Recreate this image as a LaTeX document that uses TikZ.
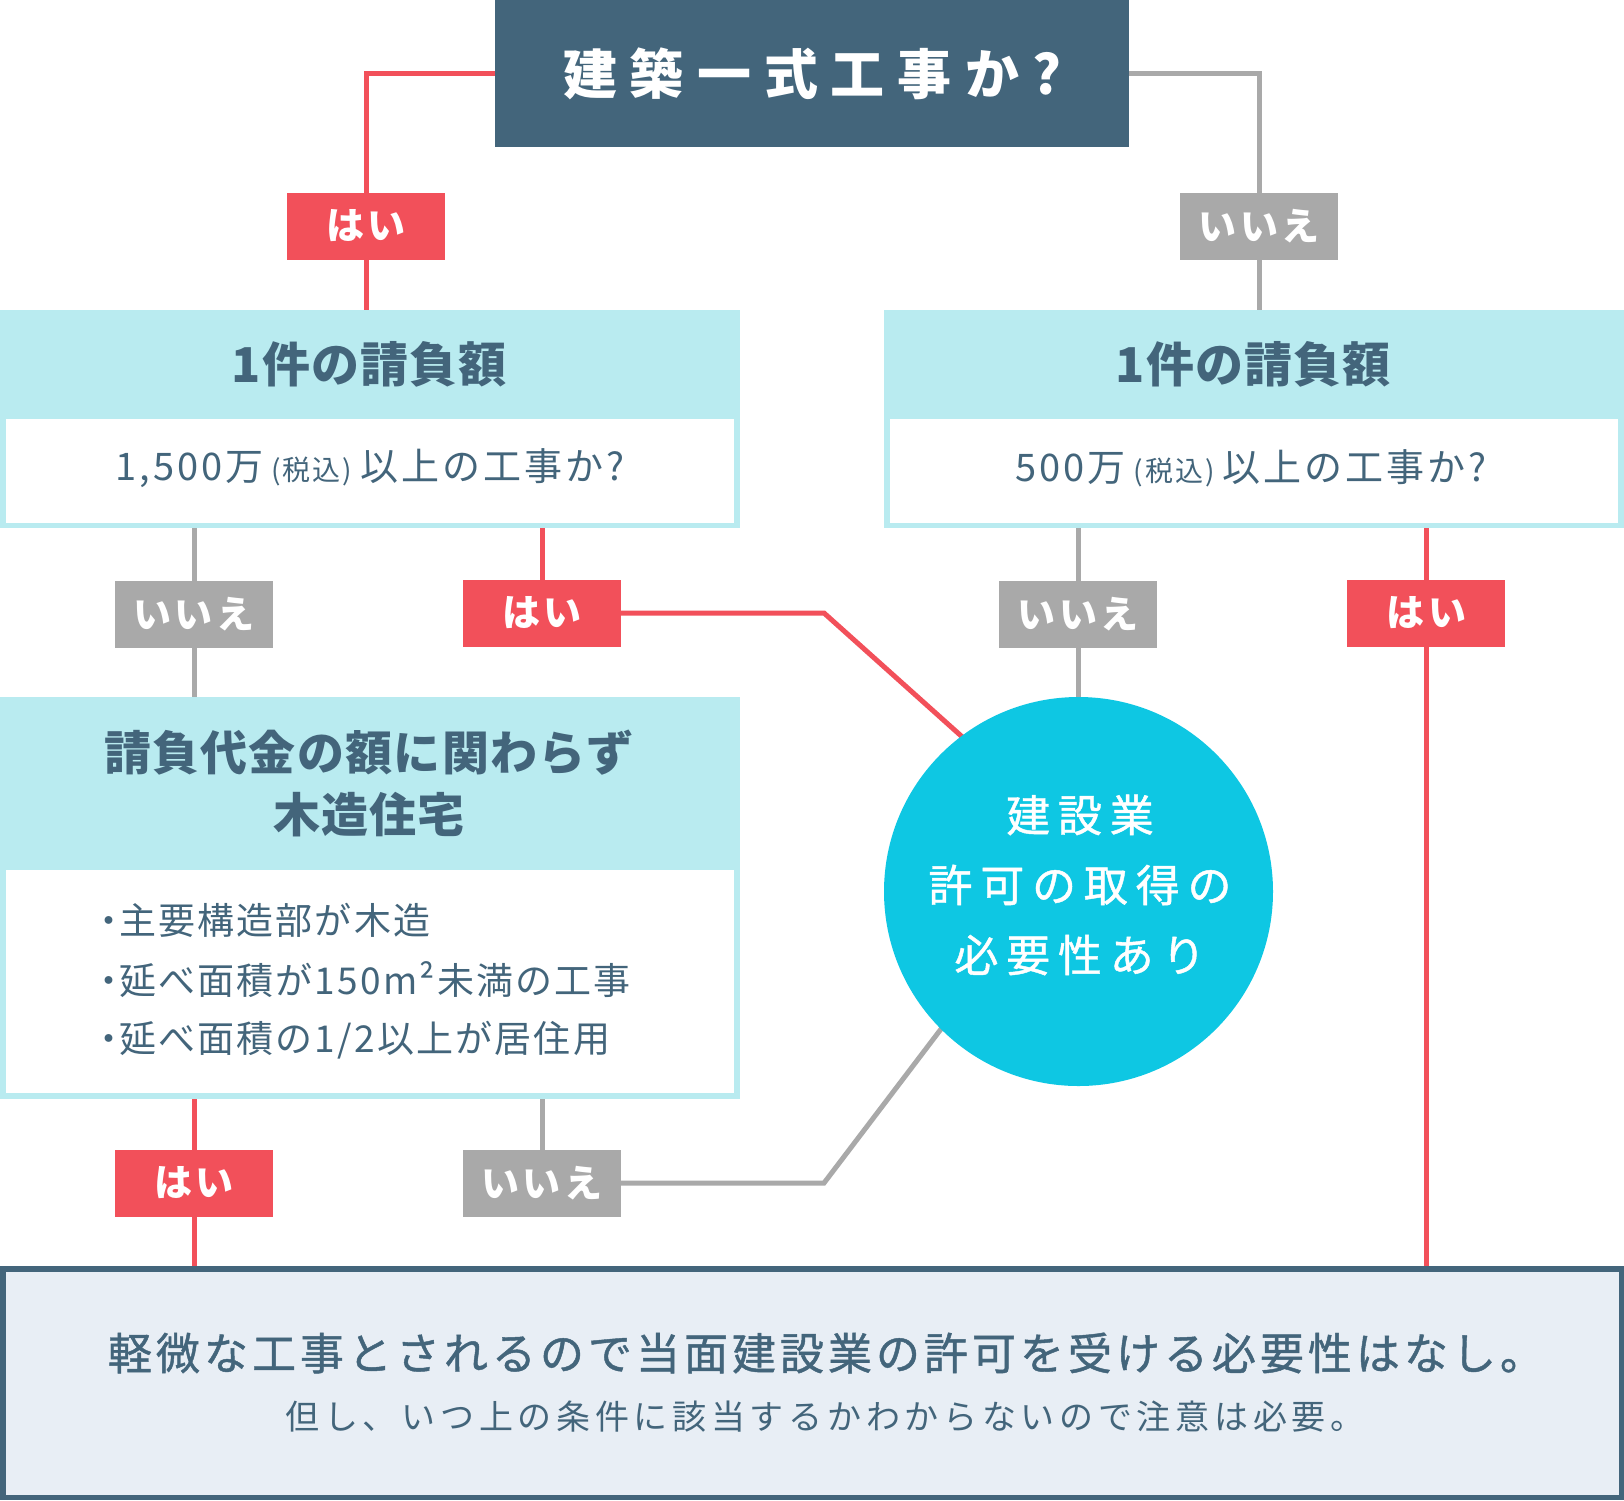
\documentclass[tikz,border=0pt]{standalone}
\usepackage{fontspec}
\usetikzlibrary{calc}
\setmainfont{Noto Sans CJK JP}
\newfontfamily\jp{Noto Sans CJK JP}
\newfontfamily\jpm[FakeBold=1]{Noto Sans CJK JP}
\definecolor{cdark}{HTML}{43657B}
\definecolor{cred}{HTML}{F2505A}
\definecolor{cgray}{HTML}{A9A9A9}
\definecolor{clight}{HTML}{B9EBF0}
\definecolor{ccyan}{HTML}{0EC7E3}
\definecolor{cbot}{HTML}{E8EEF5}
\makeatletter
\newcommand\lsp[2]{\def\lsp@k{#1}\lsp@a#2\relax}
\def\lsp@a#1{#1\lsp@b}
\def\lsp@b#1{\ifx\relax#1\else\kern\lsp@k\relax#1\expandafter\lsp@b\fi}
\makeatother
\newcommand\bul{\makebox[21pt][c]{・}}
\pgfdeclarelayer{back}
\pgfdeclarelayer{bg}
\pgfsetlayers{back,bg,main}
\begin{document}
\begin{tikzpicture}[x=1pt,y=-1pt,
  every node/.style={inner sep=0pt, outer sep=0pt},
  labbox/.style={minimum width=158pt, minimum height=67pt, text=white, font=\jp\bfseries\fontsize{38}{38}\selectfont},
  yesbox/.style={labbox, fill=cred},
  nobox/.style={labbox, fill=cgray},
  redline/.style={draw=cred, line width=5pt},
  grayline/.style={draw=cgray, line width=5pt},
  hdrbox/.style={fill=clight, anchor=north west},
  inbox/.style={fill=white, anchor=north west},
  hdrtxt/.style={text=cdark, font=\jp\bfseries\fontsize{48}{62}\selectfont, align=center},
  qtxt/.style={text=cdark, font=\jp\fontsize{38}{40}\selectfont},
  bultxt/.style={text=cdark, font=\jp\fontsize{37}{40}\selectfont, anchor=west},
  circtxt/.style={text=white, font=\jpm\fontsize{44}{70}\selectfont, align=center},
]
\useasboundingbox (0,0) rectangle (1624,1500);
\begin{pgfonlayer}{back}
\fill[white] (0,0) rectangle (1624,1500);
\end{pgfonlayer}

% top question
\node[fill=cdark, minimum width=634pt, minimum height=147pt, text=white,
  font=\jp\bfseries\fontsize{54}{60}\selectfont] (top) at (812,73.5) {\lsp{13pt}{建築一式工事か?}};

% labels row 1
\node[yesbox] (yes1) at (366,226) {\lsp{4pt}{はい}};
\node[nobox] (no1) at (1259,226) {\lsp{4pt}{いいえ}};

% left box 1
\node[hdrbox, minimum width=740pt, minimum height=218pt] (bL) at (0,310) {};
\node[inbox, minimum width=728pt, minimum height=104pt] (bLq) at (6,419) {};
\node[hdrtxt] (hL) at (369,364) {\lsp{1pt}{1件の請負額}};
\node[qtxt] (qL) at (370,468) {\lsp{3pt}{1,500万}\kern8pt{\fontsize{28}{30}\selectfont\lsp{2pt}{(税込)}}\kern8pt\lsp{3pt}{以上の工事か?}};

% right box 1
\node[hdrbox, minimum width=740pt, minimum height=218pt] (bR) at (884,310) {};
\node[inbox, minimum width=728pt, minimum height=104pt] (bRq) at (890,419) {};
\node[hdrtxt] (hR) at (1253,364) {\lsp{1pt}{1件の請負額}};
\node[qtxt] (qR) at (1251,468) {\lsp{3pt}{500万}\kern8pt{\fontsize{28}{30}\selectfont\lsp{2pt}{(税込)}}\kern8pt\lsp{3pt}{以上の工事か?}};

% labels row 2
\node[nobox] (no2) at (194,614) {\lsp{4pt}{いいえ}};
\node[yesbox] (yes2) at (542,613) {\lsp{4pt}{はい}};
\node[nobox] (no3) at (1078,614) {\lsp{4pt}{いいえ}};
\node[yesbox] (yes3) at (1426,613) {\lsp{4pt}{はい}};

% wooden house box
\node[hdrbox, minimum width=740pt, minimum height=401.6pt] (bW) at (0,697) {};
\node[inbox, minimum width=728pt, minimum height=223pt] (bWl) at (6,870) {};
\node[hdrtxt, font=\jp\bfseries\fontsize{47}{62}\selectfont] (hW) at (369,783) {\lsp{1.3pt}{請負代金の額に関わらず}\\\lsp{1.3pt}{木造住宅}};
\node[bultxt] (l1) at (98,920) {\bul\lsp{2.2pt}{主要構造部が木造}};
\node[bultxt] (l2) at (98,980) {\bul\lsp{2.2pt}{延べ面積が150m²未満の工事}};
\node[bultxt] (l3) at (98,1040.5) {\bul\lsp{2.2pt}{延べ面積の1/2以上が居住用}};

% circle
\node[circle, fill=ccyan, minimum size=389pt] (circ) at (1078.5,891.5) {};
\node[circtxt] (ctxt) at (1080,885) {\lsp{7.8pt}{建設業}\\\lsp{7.8pt}{許可の取得の}\\\lsp{7.8pt}{必要性あり}};

% labels row 3
\node[yesbox] (yes4) at (194,1183) {\lsp{4pt}{はい}};
\node[nobox] (no4) at (542,1183) {\lsp{4pt}{いいえ}};

% bottom conclusion
\node[draw=cdark, line width=5.5pt, fill=cbot, minimum width=1618.5pt, minimum height=228.5pt, anchor=north west] (bot) at (2.75,1268.75) {};
\node[text=cdark, font=\jpm\fontsize{44}{50}\selectfont] (m1) at (826,1353) {\lsp{4pt}{軽微な工事とされるので当面建設業の許可を受ける必要性はなし。}};
\node[text=cdark, font=\jp\fontsize{34}{40}\selectfont] (m2) at (825,1417) {\lsp{4.7pt}{但し、いつ上の条件に該当するかわからないので注意は必要。}};

\coordinate (k1) at (824,0);
\coordinate (bend1) at (yes2.east -| k1);
\coordinate (bend2) at (no4.east -| k1);

\begin{pgfonlayer}{bg}
\draw[redline] (top.west) -| (yes1.north);
\draw[redline] (yes1.south) -- (yes1.south |- bL.north);
\draw[grayline] (top.east) -| (no1.north);
\draw[grayline] (no1.south) -- (no1.south |- bR.north);

\draw[grayline] (no2.north |- bL.south) -- (no2.north);
\draw[grayline] (no2.south) -- (no2.south |- bW.north);
\draw[redline] (yes2.north |- bL.south) -- (yes2.north);
\draw[redline] (yes2.east) -- (bend1) -- ($(bend1)!1.05!(circ.127)$);

\draw[grayline] (no3.north |- bR.south) -- (no3.north);
\draw[grayline] (no3.south) -- ($(no3.south |- circ.north)+(0,6)$);
\draw[redline] (yes3.north |- bR.south) -- (yes3.north);
\draw[redline] (yes3.south) -- (yes3.south |- bot.north);

\draw[redline] (yes4.north |- bW.south) -- (yes4.north);
\draw[redline] (yes4.south) -- (yes4.south |- bot.north);
\draw[grayline] (no4.north |- bW.south) -- (no4.north);
\draw[grayline] (no4.east) -- (bend2) -- ($(bend2)!1.05!(circ.225)$);
\end{pgfonlayer}
\end{tikzpicture}
\end{document}
